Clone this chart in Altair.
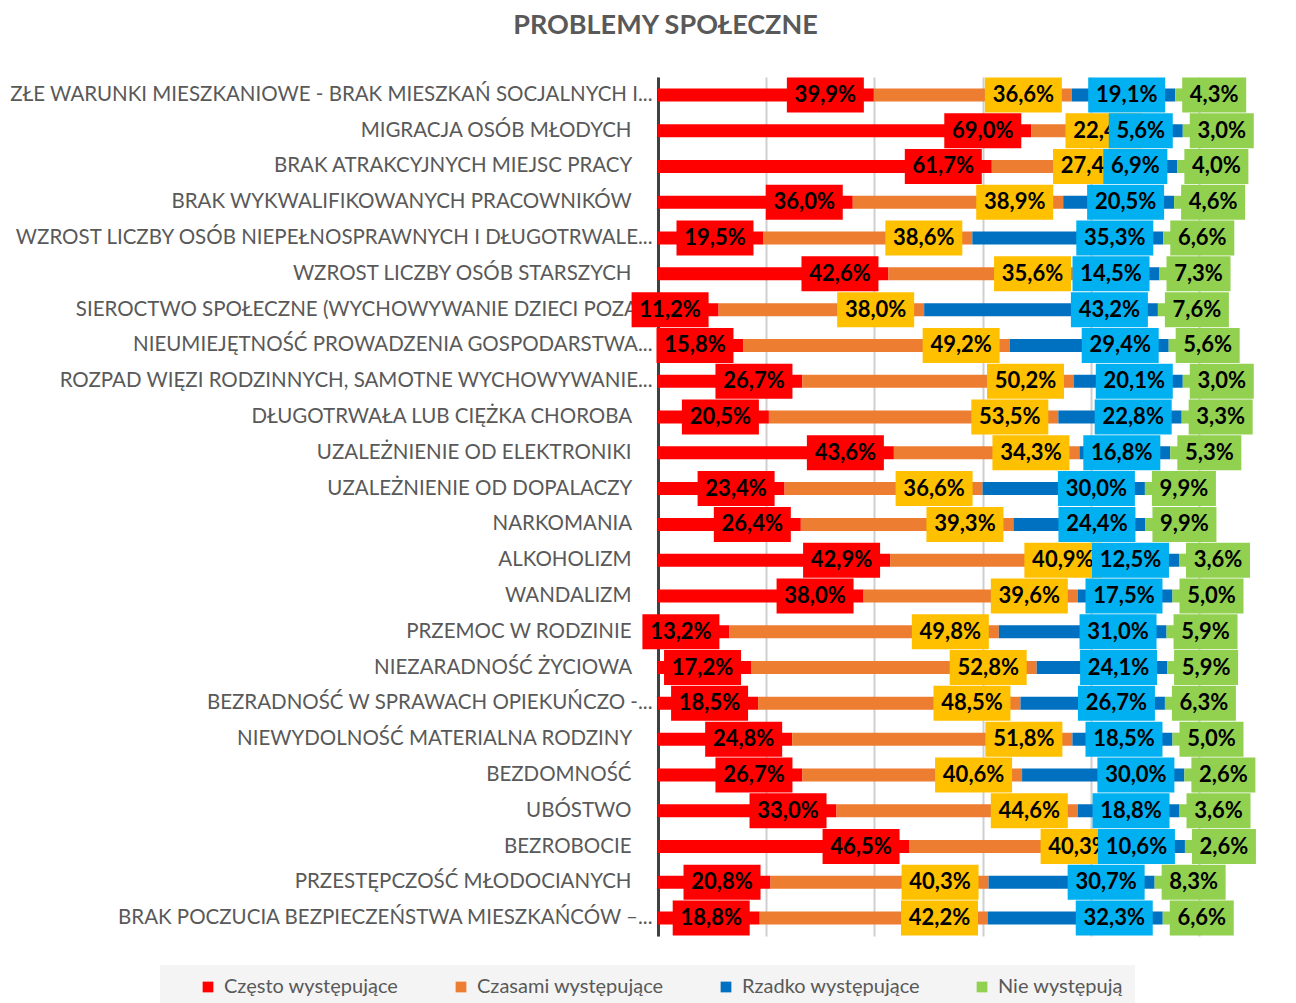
import altair as alt
import pandas as pd

categories = [
    "ZŁE WARUNKI MIESZKANIOWE - BRAK MIESZKAŃ SOCJALNYCH I...",
    "MIGRACJA OSÓB MŁODYCH",
    "BRAK ATRAKCYJNYCH MIEJSC PRACY",
    "BRAK WYKWALIFIKOWANYCH PRACOWNIKÓW",
    "WZROST LICZBY OSÓB NIEPEŁNOSPRAWNYCH I DŁUGOTRWALE...",
    "WZROST LICZBY OSÓB STARSZYCH",
    "SIEROCTWO SPOŁECZNE (WYCHOWYWANIE DZIECI POZA...",
    "NIEUMIEJĘTNOŚĆ PROWADZENIA GOSPODARSTWA...",
    "ROZPAD WIĘZI RODZINNYCH, SAMOTNE WYCHOWYWANIE...",
    "DŁUGOTRWAŁA LUB CIĘŻKA CHOROBA",
    "UZALEŻNIENIE OD ELEKTRONIKI",
    "UZALEŻNIENIE OD DOPALACZY",
    "NARKOMANIA",
    "ALKOHOLIZM",
    "WANDALIZM",
    "PRZEMOC W RODZINIE",
    "NIEZARADNOŚĆ ŻYCIOWA",
    "BEZRADNOŚĆ W SPRAWACH OPIEKUŃCZO -...",
    "NIEWYDOLNOŚĆ MATERIALNA RODZINY",
    "BEZDOMNOŚĆ",
    "UBÓSTWO",
    "BEZROBOCIE",
    "PRZESTĘPCZOŚĆ MŁODOCIANYCH",
    "BRAK POCZUCIA BEZPIECZEŃSTWA MIESZKAŃCÓW –...",
]
czesto = [39.9, 69.0, 61.7, 36.0, 19.5, 42.6, 11.2, 15.8, 26.7, 20.5, 43.6, 23.4,
          26.4, 42.9, 38.0, 13.2, 17.2, 18.5, 24.8, 26.7, 33.0, 46.5, 20.8, 18.8]
czasami = [36.6, 22.4, 27.4, 38.9, 38.6, 35.6, 38.0, 49.2, 50.2, 53.5, 34.3, 36.6,
           39.3, 40.9, 39.6, 49.8, 52.8, 48.5, 51.8, 40.6, 44.6, 40.3, 40.3, 42.2]
rzadko = [19.1, 5.6, 6.9, 20.5, 35.3, 14.5, 43.2, 29.4, 20.1, 22.8, 16.8, 30.0,
          24.4, 12.5, 17.5, 31.0, 24.1, 26.7, 18.5, 30.0, 18.8, 10.6, 30.7, 32.3]
nie = [4.3, 3.0, 4.0, 4.6, 6.6, 7.3, 7.6, 5.6, 3.0, 3.3, 5.3, 9.9,
       9.9, 3.6, 5.0, 5.9, 5.9, 6.3, 5.0, 2.6, 3.6, 2.6, 8.3, 6.6]

series_names = ["Często występujące", "Czasami występujące", "Rzadko występujące", "Nie występują"]
bar_colors = ["#FF0000", "#ED7D31", "#0070C0", "#92D050"]
box_colors = ["#FF0000", "#FFC000", "#00B0F0", "#92D050"]

rows = []
for i, cat in enumerate(categories):
    acc = 0.0
    for s, vals in enumerate([czesto, czasami, rzadko, nie]):
        v = vals[i]
        rows.append(dict(cat=cat, series=series_names[s], order=s, value=v,
                         start=acc, end=acc + v,
                         label=f"{v:.1f}".replace(".", ",") + "%"))
        acc += v
df = pd.DataFrame(rows)

W, H = 541, 859
PXU = W / 100.0
FONT = "Lato"
TXT = "#595959"
# trailing non-breaking spaces, closed by a zero-width space so they are not trimmed
PADTXT = "\u00a0" * 4 + "\u200b"

y_enc = alt.Y(
    "cat:N", sort=categories, title=None,
    scale=alt.Scale(paddingInner=0, paddingOuter=0),
    axis=alt.Axis(labelFont=FONT, labelFontSize=20.5, labelColor=TXT, ticks=False,
                  domainColor="#404040", domainWidth=3, labelPadding=6, labelLimit=900,
                  grid=False,
                  labelExpr="indexof(datum.label, '...') >= 0 ? datum.label : datum.label + '" + PADTXT + "'"),
)


def x_enc(field):
    return alt.X(
        field + ":Q", title=None,
        scale=alt.Scale(domain=[0, 100], nice=False, zero=True),
        axis=alt.Axis(labels=False, ticks=False, domain=False, values=[0, 20, 40, 60, 80, 100],
                      gridColor="#cfcfcf", gridWidth=2),
    )


base = alt.Chart(df)

bars = base.mark_bar(size=13).encode(
    x=x_enc("start"), x2="end:Q", y=y_enc,
    color=alt.Color("series:N", scale=alt.Scale(domain=series_names, range=bar_colors),
                    legend=alt.Legend(title=" ", titleOrient="left", titlePadding=26,
                                      orient="none", legendX=-498, legendY=888,
                                      direction="horizontal", columns=4,
                                      fillColor="#f4f4f4", padding=12,
                                      symbolType="square", symbolSize=115, symbolStrokeWidth=0,
                                      labelFont=FONT, labelFontSize=20, labelColor=TXT,
                                      labelLimit=500, columnPadding=52, labelOffset=6)),
)

layers = [bars]
for s in range(4):
    if s < 3:
        calc = dict(bw=f"(length(datum.label) * 13 + 12) / {PXU}",
                    bx2=f"datum.end - 10 / {PXU}")
        b = base.transform_filter(alt.datum.order == s).transform_calculate(**calc).transform_calculate(
            bx="datum.bx2 - datum.bw").transform_calculate(bc="(datum.bx + datum.bx2) / 2")
    else:
        calc = dict(bw=f"(length(datum.label) * 13 + 12) / {PXU}",
                    bx=f"datum.start + 7 / {PXU}")
        b = base.transform_filter(alt.datum.order == s).transform_calculate(**calc).transform_calculate(
            bx2="datum.bx + datum.bw").transform_calculate(bc="(datum.bx + datum.bx2) / 2")
    box = b.mark_bar(size=35, color=box_colors[s]).encode(x=x_enc("bx"), x2="bx2:Q", y=y_enc)
    txt = b.mark_text(font=FONT, fontWeight="bold", fontSize=22, color="black",
                      align="center", baseline="middle").encode(x=x_enc("bc"), y=y_enc, text="label:N")
    layers += [box, txt]

chart = alt.layer(*layers).properties(
    width=W, height=H,
    padding={"left": 650, "top": 69, "right": 89, "bottom": 80},
    autosize=alt.AutoSizeParams(type="none"),
    title=alt.TitleParams("PROBLEMY SPOŁECZNE", font=FONT, fontSize=27, fontWeight="bold",
                          color=TXT, anchor="middle", dx=-263, offset=37),
).configure_view(stroke=None)

chart.save("out.html", embed_options={"renderer": "svg", "actions": False})
